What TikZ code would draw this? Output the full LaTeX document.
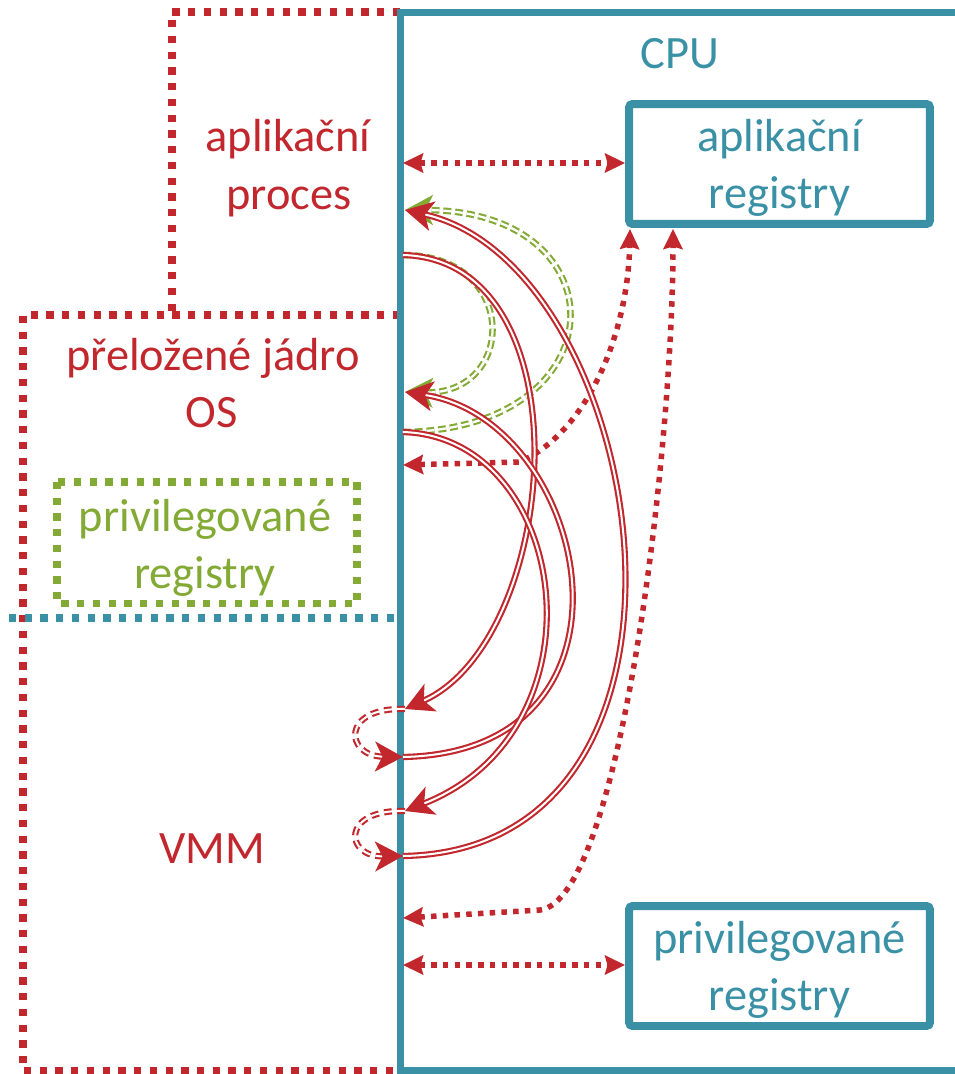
\documentclass[tikz,border=0pt]{standalone}
\usepackage{fontspec}
\setmainfont{Carlito}
\usetikzlibrary{arrows.meta}
\definecolor{vred}{RGB}{193,39,45}
\definecolor{vblue}{RGB}{58,145,166}
\definecolor{vgreen}{RGB}{132,170,54}
\begin{document}
\begin{tikzpicture}[x=0.02cm,y=-0.02cm,
  lbl/.style={font=\fontsize{26.4}{32.5}\selectfont, inner sep=0pt},
  redtxt/.style={lbl, text=vred, anchor=base},
  greentxt/.style={lbl, text=vgreen, anchor=base},
  regbox/.style={lbl, align=center, draw=vblue, text=vblue, line width=0.16cm,
    rounded corners=2pt, minimum width=6.02cm, minimum height=2.4cm, text depth=0pt},
  regiondots/.style={line width=0.145cm, dash pattern=on 0.145cm off 0.17cm},
  cpuline/.style={draw=vblue, line width=0.14cm},
  access/.style={vred, line width=0.11cm, dash pattern=on 0.11cm off 0.125cm,
    {Stealth[length=0.4cm, width=0.38cm, inset=0.05cm]}-{Stealth[length=0.4cm, width=0.38cm, inset=0.05cm]}},
  bigtip/.style={-{Stealth[length=0.56cm, width=0.6cm, inset=0.15cm]}},
  trap/.style={draw=vred, double=white, line width=1.2pt, double distance=1.15pt, bigtip},
  loopback/.style={trap, dash pattern=on 4.5pt off 3pt},
  native/.style={draw=vgreen, double=white, line width=1.2pt, double distance=1.3pt,
    dash pattern=on 4.5pt off 2.2pt, bigtip},
]
\useasboundingbox (0,0) rectangle (954,1074);

% guest regions: application process, translated kernel + VMM
\draw[vred, regiondots] (400,12) -- (172,12) -- (172,315);
\draw[vred, regiondots] (400,315) -- (23,315) -- (23,1071) -- (400,1071);
% boundary between kernel and VMM
\draw[vblue, regiondots] (9,618) -- (400,618);
% privileged registers as seen by the guest kernel
\draw[vgreen, regiondots] (57,482) rectangle (357,603.5);

% region labels
\node[redtxt] (ap1) at (288,152) {aplikační};
\node[redtxt] (ap2) at (289,210) {proces};
\node[redtxt] (os1) at (213,370) {přeložené jádro};
\node[redtxt] (os2) at (212,427) {OS};
\node[greentxt] (gp1) at (205,531) {privilegované};
\node[greentxt] (gp2) at (205,588) {registry};
\node[redtxt] (vmm) at (212,863) {VMM};

% CPU frame
\draw[cpuline] (960,13) -- (400,13) -- (400,1070) -- (960,1070);
\node[lbl, text=vblue, anchor=base] (cpu) at (680,69) {CPU};
\node[regbox] (appreg) at (779.5,164) {aplikační\\registry};
\node[regbox] (privreg) at (779.5,966) {privilegované\\registry};

% points on the CPU boundary
\coordinate (pA) at (403,163);
\coordinate (pRet) at (405,210);
\coordinate (pCall) at (403,255);
\coordinate (pOSin) at (405,392);
\coordinate (pOSout) at (403,432);
\coordinate (pOSreg) at (403,465);
\coordinate (pV1in) at (405,709);
\coordinate (pV1out) at (403,757);
\coordinate (pV2in) at (405,811);
\coordinate (pV2out) at (403,856);
\coordinate (pVreg) at (403,918);
\coordinate (pVpriv) at (403,965);
\coordinate (rA) at (630,229);
\coordinate (rB) at (673,229);

% register accesses
\draw[access] (pA) -- (appreg.west |- pA);
\draw[access] (pOSreg) -- (520,462) .. controls (590,430) and (628,330) .. (rA);
\draw[access] (pVreg) -- (540,910) .. controls (620,900) and (673,450) .. (rB);
\draw[access] (pVpriv) -- (privreg.west |- pVpriv);

% native control transfers
\draw[native] (pCall) .. controls (520,255) and (517,395) .. (pOSin);
\draw[native] (pOSout) .. controls (620,430) and (625,210) .. (pRet);

% transfers through the VMM
\draw[trap] (pCall) .. controls (590,260) and (560,640) .. (pV1in);
\draw[trap] (pV1out) .. controls (660,752) and (590,420) .. (pOSin);
\draw[trap] (pOSout) .. controls (570,437) and (610,730) .. (pV2in);
\draw[trap] (pV2out) .. controls (740,850) and (650,265) .. (pRet);

% VMM internal handling
\draw[loopback] (pV1in) .. controls (340,707) and (345,756) .. (pV1out);
\draw[loopback] (pV2in) .. controls (340,809) and (345,857) .. (pV2out);
\end{tikzpicture}
\end{document}
